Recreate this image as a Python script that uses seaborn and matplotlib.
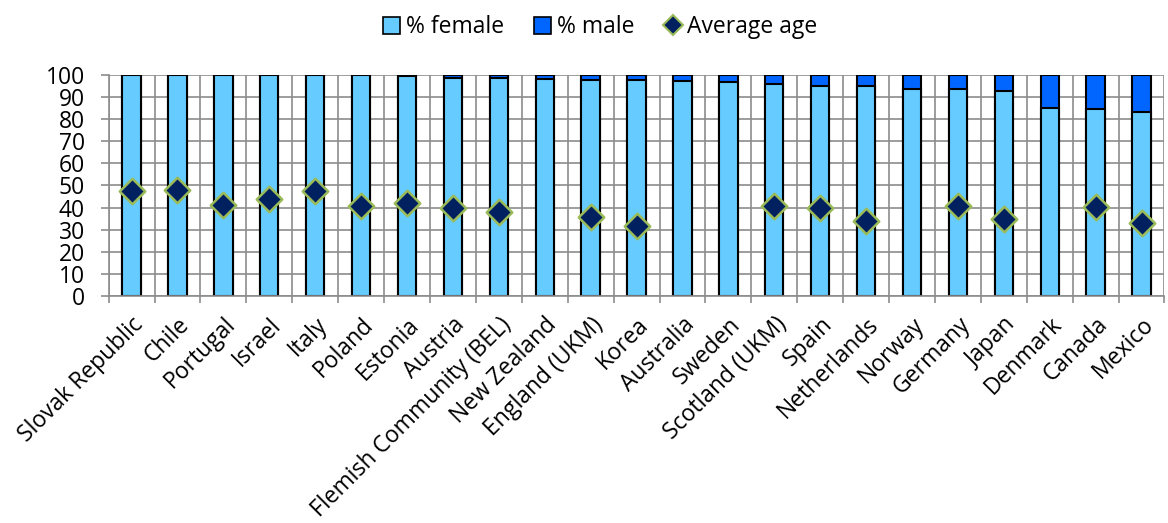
import numpy as np
import pandas as pd
import seaborn as sns
import matplotlib.pyplot as plt
from matplotlib.patches import Patch
from matplotlib.lines import Line2D
from matplotlib.ticker import FixedLocator

countries = ["Slovak Republic", "Chile", "Portugal", "Israel", "Italy", "Poland",
             "Estonia", "Austria", "Flemish Community (BEL)", "New Zealand",
             "England (UKM)", "Korea", "Australia", "Sweden", "Scotland (UKM)",
             "Spain", "Netherlands", "Norway", "Germany", "Japan", "Denmark",
             "Canada", "Mexico"]
pct_female = [100.0, 99.8, 99.8, 99.8, 99.7, 99.7, 99.6, 98.6, 98.5, 98.2,
              97.8, 97.7, 97.4, 96.9, 95.9, 95.0, 95.0, 93.8, 93.8, 92.8,
              84.8, 84.5, 83.0]
pct_male = [0.0, 0.2, 0.2, 0.2, 0.3, 0.3, 0.4, 1.4, 1.5, 1.8,
            2.2, 2.3, 2.6, 3.1, 4.1, 5.0, 5.0, 6.2, 6.2, 7.2,
            15.2, 15.5, 17.0]
avg_age = [47.5, 48.1, 41.0, 43.9, 47.5, 40.7, 41.9, 39.7, 37.9, np.nan,
           35.9, 31.8, np.nan, np.nan, 40.9, 39.7, 33.9, np.nan, 40.9, 35.0,
           np.nan, 40.3, 32.9]

df = pd.DataFrame({"country": countries, "female": pct_female,
                   "male": pct_male, "age": avg_age})
df["total"] = df["female"] + df["male"]

sns.set_style("white")
plt.rcParams["font.family"] = ["Open Sans", "DejaVu Sans"]
plt.rcParams["text.color"] = "black"
plt.rcParams["xtick.color"] = "black"
plt.rcParams["ytick.color"] = "black"

fig, ax = plt.subplots(figsize=(11.68, 5.23), dpi=100)
fig.subplots_adjust(left=0.093, right=0.997, top=0.857, bottom=0.434)

# stacked bars: full height in the male colour, female part on top of it
sns.barplot(data=df, x="country", y="total", order=countries, color="#0066FF",
            saturation=1, width=0.4, edgecolor="black", linewidth=1.5, ax=ax)
sns.barplot(data=df, x="country", y="female", order=countries, color="#66CCFF",
            saturation=1, width=0.4, edgecolor="black", linewidth=1.5, ax=ax)
sns.stripplot(data=df, x="country", y="age", order=countries, jitter=False,
              marker="D", size=13, color="#002060", edgecolor="#9BBB59",
              linewidth=1.8, zorder=4, ax=ax)

ax.set_xlim(-0.5, len(countries) - 0.5)
ax.set_ylim(0, 100)
ax.set_yticks(range(0, 101, 10))
ax.set_xlabel("")
ax.set_ylabel("")

ax.xaxis.set_minor_locator(FixedLocator(np.arange(len(countries) + 1) - 0.5))
ax.set_axisbelow(True)
ax.grid(axis="y", which="major", color="#8c8c8c", linewidth=1.2)
ax.grid(axis="x", which="minor", color="#8c8c8c", linewidth=1.2)
ax.grid(axis="x", which="major", visible=False)

for side in ["top", "right"]:
    ax.spines[side].set_visible(False)
for side in ["left", "bottom"]:
    ax.spines[side].set_color("#8c8c8c")
    ax.spines[side].set_linewidth(1.2)

ax.tick_params(axis="y", which="major", direction="out", length=6, width=1.2,
               color="#8c8c8c", labelcolor="black", labelsize=16.5, pad=11,
               left=True)
ax.tick_params(axis="x", which="major", length=0, labelsize=16.5, pad=12,
               labelcolor="black")
ax.tick_params(axis="x", which="minor", direction="out", length=5, width=1.2,
               color="#8c8c8c", bottom=True)
plt.setp(ax.get_xticklabels(), rotation=45, ha="right", rotation_mode="anchor")

handles = [
    Patch(facecolor="#66CCFF", edgecolor="black", linewidth=1.2, label="% female"),
    Patch(facecolor="#0066FF", edgecolor="black", linewidth=1.2, label="% male"),
    Line2D([], [], linestyle="none", marker="D", markersize=10,
           markerfacecolor="#002060", markeredgecolor="#9BBB59",
           markeredgewidth=1.5, label="Average age"),
]
fig.legend(handles=handles, loc="center", bbox_to_anchor=(0.514, 0.948), ncol=3,
           frameon=False, fontsize=16.5, handlelength=0.75, handleheight=0.75,
           handletextpad=0.25, columnspacing=1.3)

plt.savefig("out.png", dpi=100)
